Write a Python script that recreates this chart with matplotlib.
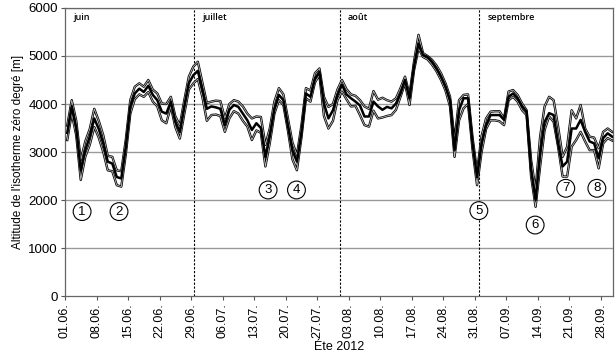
import matplotlib
matplotlib.use("Agg")
import matplotlib.pyplot as plt
import matplotlib.patheffects as pe
import numpy as np

# daily values, 01.06.2012 - 30.09.2012
mid = [3400, 3950, 3500, 2620, 3040, 3320, 3700, 3480, 3180, 2800,
       2760, 2480, 2450, 3100, 3950, 4220, 4320, 4250, 4380, 4190,
       4080, 3840, 3800, 4050, 3630, 3420, 3950, 4430, 4600, 4690,
       4300, 3900, 3950, 3930, 3900, 3560, 3880, 3980, 3940, 3800,
       3660, 3460, 3600, 3500, 2900, 3350, 3900, 4190, 4080, 3550,
       3040, 2800, 3400, 4220, 4150, 4530, 4670, 4010, 3700, 3870,
       4190, 4400, 4200, 4120, 4050, 3970, 3740, 3740, 4050, 3950,
       3880, 3940, 3910, 4010, 4220, 4500, 4120, 4780, 5260, 5020,
       4980, 4880, 4740, 4570, 4360, 4080, 3040, 3870, 4120, 4120,
       3180, 2480, 3180, 3560, 3770, 3770, 3770, 3670, 4150, 4220,
       4120, 3950, 3840, 2630, 2000, 2970, 3630, 3810, 3770, 3180,
       2700, 2800, 3490, 3490, 3670, 3420, 3220, 3180, 2870, 3290,
       3390, 3320]
upper = [3550, 4080, 3650, 2830, 3220, 3480, 3900, 3650, 3350, 2920,
         2900, 2620, 2600, 3250, 4080, 4360, 4430, 4360, 4500, 4300,
         4220, 4010, 4000, 4150, 3740, 3560, 4080, 4570, 4780, 4880,
         4450, 4020, 4050, 4070, 4060, 3700, 4000, 4080, 4050, 3950,
         3800, 3700, 3740, 3730, 3150, 3500, 4050, 4330, 4200, 3700,
         3200, 2940, 3550, 4330, 4280, 4640, 4740, 4150, 3940, 4000,
         4300, 4500, 4310, 4200, 4170, 4080, 3950, 3900, 4270, 4090,
         4130, 4080, 4050, 4120, 4330, 4570, 4190, 4880, 5440, 5060,
         5000, 4920, 4800, 4640, 4430, 4150, 3250, 4080, 4190, 4200,
         3300, 2590, 3330, 3700, 3840, 3850, 3850, 3700, 4260, 4290,
         4190, 4010, 3870, 2830, 2210, 3320, 3950, 4150, 4080, 3530,
         2900, 3110, 3870, 3700, 3980, 3490, 3320, 3300, 3080, 3420,
         3490, 3420]
lower = [3250, 3800, 3350, 2420, 2900, 3150, 3520, 3300, 3000, 2620,
         2600, 2310, 2280, 2950, 3800, 4100, 4200, 4150, 4250, 4050,
         3950, 3660, 3600, 3950, 3520, 3280, 3800, 4300, 4430, 4520,
         4150, 3650, 3770, 3780, 3750, 3420, 3700, 3850, 3800, 3650,
         3530, 3250, 3450, 3400, 2700, 3200, 3800, 4080, 3980, 3450,
         2850, 2620, 3300, 4120, 4050, 4450, 4600, 3750, 3490, 3650,
         4080, 4260, 4100, 3950, 3960, 3770, 3560, 3530, 3860, 3700,
         3720, 3750, 3770, 3880, 4150, 4430, 3980, 4700, 5160, 4980,
         4930, 4820, 4680, 4500, 4280, 3950, 2900, 3660, 3910, 4000,
         3050, 2310, 3000, 3480, 3660, 3660, 3640, 3560, 4080, 4150,
         4050, 3870, 3770, 2490, 1860, 2700, 3460, 3740, 3630, 3110,
         2490, 2490, 3110, 3250, 3420, 3220, 3040, 3040, 2660, 3180,
         3290, 3240]

tick_labels = ["01.06.", "08.06.", "15.06.", "22.06.", "29.06.", "06.07.",
               "13.07.", "20.07.", "27.07.", "03.08.", "10.08.", "17.08.",
               "24.08.", "31.08.", "07.09.", "14.09.", "21.09.", "28.09."]
months = ["juin", "juillet", "août", "septembre"]
month_starts = [0, 28.7, 61, 92]

# circled event numbers: (day, altitude)
events = ["1", "2", "3", "4", "5", "6", "7", "8"]
event_day = [3.8, 12.0, 45.1, 51.4, 91.9, 104.4, 111.2, 118.1]
event_alt = [1760, 1760, 2210, 2210, 1780, 1480, 2245, 2245]

x = np.arange(len(mid)) + 0.5

fig = plt.figure(figsize=(6.16, 3.62), dpi=100)
ax = fig.add_axes([0.1055, 0.182, 0.889, 0.796])

for y in range(1000, 7000, 1000):
    ax.axhline(y, color="#9a9a9a", lw=1.0, zorder=0)

for pos in month_starts[1:]:
    ax.axvline(pos, color="black", lw=0.8, ls=(0, (2, 1.5)), zorder=1)
for pos, name in zip(month_starts, months):
    ax.text(pos + 1.8, 5810, name, fontsize=6.5, family="Open Sans",
            fontweight="semibold", va="center", ha="left")

thin = [pe.Stroke(linewidth=1.7, foreground="black"), pe.Normal()]
ax.plot(x, upper, color="#bdbdbd", lw=0.6, path_effects=thin, zorder=3)
ax.plot(x, lower, color="#bdbdbd", lw=0.6, path_effects=thin, zorder=3)
ax.plot(x, mid, color="black", lw=1.8, zorder=4)

for lab, d, a in zip(events, event_day, event_alt):
    ax.text(d, a, lab, fontsize=9.5, family="Liberation Sans", ha="center",
            va="center", zorder=5,
            bbox=dict(boxstyle="circle,pad=0.22", fc="white", ec="black", lw=0.8))

ax.set_xlim(0, 121.6)
ax.set_ylim(0, 6000)
ax.set_xticks(np.arange(0, 7 * len(tick_labels), 7))
ax.set_xticklabels(tick_labels, rotation=90, family="Liberation Sans", fontsize=9)
ax.set_yticks(range(0, 7000, 1000))
ax.set_yticklabels([str(v) for v in range(0, 7000, 1000)], family="Liberation Sans",
                   fontsize=9.5)
ax.tick_params(axis="both", direction="out", length=3, width=0.8, color="#555555", pad=2)
for s in ax.spines.values():
    s.set_color("#666666")
    s.set_linewidth(0.9)

ax.set_ylabel("Altitude de l'isotherme zéro degré [m]", family="Liberation Sans",
              fontsize=8.5, labelpad=3)
ax.set_xlabel("Éte 2012", family="Liberation Sans", fontsize=9, labelpad=2)

fig.savefig("out.png", dpi=100)
